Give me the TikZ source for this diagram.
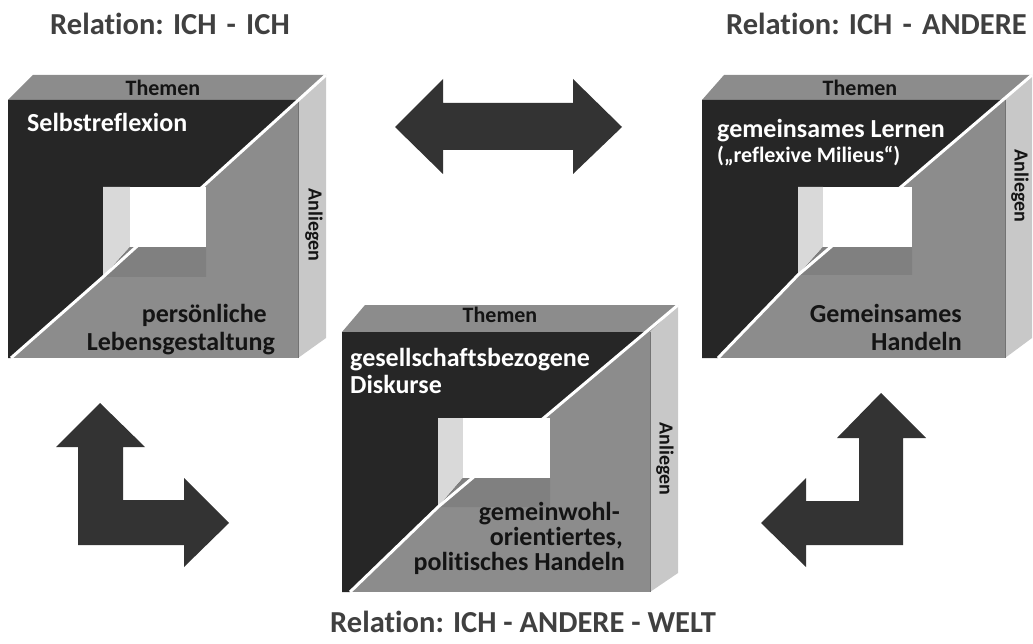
\documentclass[tikz,border=0pt]{standalone}
\usepackage{fontspec}
\setmainfont{Carlito}[Ligatures={NoCommon}]
\definecolor{dk}{HTML}{262626}
\definecolor{md}{HTML}{8C8C8C}
\definecolor{sd}{HTML}{C8C8C8}
\definecolor{lw}{HTML}{D9D9D9}
\definecolor{bw}{HTML}{808080}
\definecolor{ar}{HTML}{333333}
\definecolor{tt}{HTML}{404040}
\definecolor{tx}{HTML}{141414}
\tikzset{
  topface/.style={fill=md},
  sideface/.style={fill=sd},
  frontface/.style={fill=md},
  darkpart/.style={fill=dk},
  leftwall/.style={fill=lw},
  bottomwall/.style={fill=bw},
  holeback/.style={fill=white},
  gapline/.style={draw=white, line width=3pt},
  edgeline/.style={draw=black!55, line width=1pt},
  arrowshape/.style={fill=ar},
  titletxt/.style={font=\fontsize{30.5}{32}\selectfont\bfseries, text=tt, inner sep=0},
  whitetxt/.style={font=\fontsize{26}{27}\selectfont\bfseries, text=white, inner sep=0},
  smallwhite/.style={font=\fontsize{22}{24}\selectfont\bfseries, text=white, inner sep=0},
  blacktxt/.style={font=\fontsize{26}{27}\selectfont\bfseries, text=tx, inner sep=0},
  facetxt/.style={font=\fontsize{22}{24}\selectfont\bfseries, text=tx, inner sep=0},
  sidetxt/.style={font=\fontsize{20}{22}\selectfont\bfseries, text=tx, inner sep=0},
}
\begin{document}
\begin{tikzpicture}[x=1pt,y=-1pt]
\useasboundingbox (0,0) rectangle (1033,644);

% ---------------- Cube 1 ----------------
\fill[topface] (8,100) -- (33,75) -- (326,75) -- (298,100) -- cycle;
\fill[sideface] (298,100) -- (326,75) -- (326,338) -- (298,358) -- cycle;
\fill[frontface] (8,100) rectangle (298,358);
\fill[darkpart] (8,100) -- (298,100) -- (103,277) -- (11,358) -- (8,358) -- cycle;
\fill[leftwall] (103,187) -- (130,187) -- (130,247) -- (103,277) -- cycle;
\fill[bottomwall] (103,277) -- (130,247) -- (206,247) -- (206,277) -- cycle;
\fill[holeback] (130,187) rectangle (206,247);
\draw[edgeline] (298,100) -- (298,358);
\draw[gapline] (11,358) -- (103,277) -- (326,75);
\node[titletxt, anchor=base west] (t1) at (50,35) {Relation: ICH\,\,-\,\,ICH};
\node[facetxt, anchor=base] (th1) at (163,96) {Themen};
\node[sidetxt, rotate=-90] (an1) at (314,225) {Anliegen};
\node[whitetxt, anchor=base west] (c1a) at (27,132) {Selbstreflexion};
\node[blacktxt, anchor=base east] (c1b) at (267,323) {persönliche};
\node[blacktxt, anchor=base east] (c1c) at (275,350) {Lebensgestaltung};

% ---------------- Cube 2 ----------------
\fill[topface] (702,100) -- (724,75) -- (1032,75) -- (1005,100) -- cycle;
\fill[sideface] (1005,100) -- (1032,75) -- (1032,338) -- (1005,358) -- cycle;
\fill[frontface] (702,100) rectangle (1005,358);
\fill[darkpart] (702,100) -- (1003,100) -- (798,275) -- (718,358) -- (702,358) -- cycle;
\fill[leftwall] (798,187) -- (823,187) -- (823,247) -- (798,275) -- cycle;
\fill[bottomwall] (798,275) -- (823,247) -- (912,247) -- (912,275) -- cycle;
\fill[holeback] (823,187) rectangle (912,247);
\draw[edgeline] (1005,100) -- (1005,358);
\draw[gapline] (718,358) -- (798,275) -- (1032,75);
\node[titletxt, anchor=base east] (t2) at (1027,35) {Relation: ICH\,\,-\,\,ANDERE};
\node[facetxt, anchor=base] (th2) at (860,96) {Themen};
\node[sidetxt, rotate=-90] (an2) at (1020,186) {Anliegen};
\node[whitetxt, anchor=base west] (c2a) at (717,138) {gemeinsames Lernen};
\node[smallwhite, anchor=base west] (c2b) at (717,163) {(„reflexive Milieus“)};
\node[blacktxt, anchor=base east] (c2c) at (962,323) {Gemeinsames};
\node[blacktxt, anchor=base east] (c2d) at (962,350) {Handeln};

% ---------------- Cube 3 ----------------
\fill[topface] (342,332) -- (365,305) -- (678,305) -- (650,332) -- cycle;
\fill[sideface] (650,332) -- (678,305) -- (678,573) -- (650,592) -- cycle;
\fill[frontface] (342,332) rectangle (650,592);
\fill[darkpart] (342,332) -- (646,332) -- (438,507) -- (350,592) -- (342,592) -- cycle;
\fill[leftwall] (438,418) -- (463,418) -- (463,478) -- (438,507) -- cycle;
\fill[bottomwall] (438,507) -- (463,478) -- (550,478) -- (550,507) -- cycle;
\fill[holeback] (463,418) rectangle (550,478);
\draw[edgeline] (650,332) -- (650,592);
\draw[gapline] (350,592) -- (438,507) -- (678,305);
\node[titletxt, anchor=base east] (t3) at (716,632) {Relation: ICH - ANDERE - WELT};
\node[facetxt, anchor=base] (th3) at (500,323) {Themen};
\node[sidetxt, rotate=-90] (an3) at (665,459) {Anliegen};
\node[whitetxt, anchor=base west] (c3a) at (350,366) {gesellschaftsbezogene};
\node[whitetxt, anchor=base west] (c3b) at (350,393) {Diskurse};
\node[blacktxt, anchor=base east] (c3c) at (620,520) {gemeinwohl-};
\node[blacktxt, anchor=base east] (c3d) at (623,545) {orientiertes,};
\node[blacktxt, anchor=base east] (c3e) at (625,570) {politisches Handeln};

% ---------------- Arrows ----------------
\fill[arrowshape] (395,127) -- (443,79) -- (443,103) -- (573,103) -- (573,79) -- (622,127)
  -- (573,174) -- (573,150) -- (443,150) -- (443,174) -- cycle;
\fill[arrowshape] (100,403) -- (145,447) -- (123,447) -- (123,500) -- (184,500) -- (184,478)
  -- (229,523) -- (184,567) -- (184,545) -- (78,545) -- (78,447) -- (56,447) -- cycle;
\fill[arrowshape] (881,393) -- (926,438) -- (903,438) -- (903,545) -- (806,545) -- (806,567)
  -- (761,523) -- (806,478) -- (806,501) -- (859,501) -- (859,438) -- (837,438) -- cycle;
\end{tikzpicture}
\end{document}
